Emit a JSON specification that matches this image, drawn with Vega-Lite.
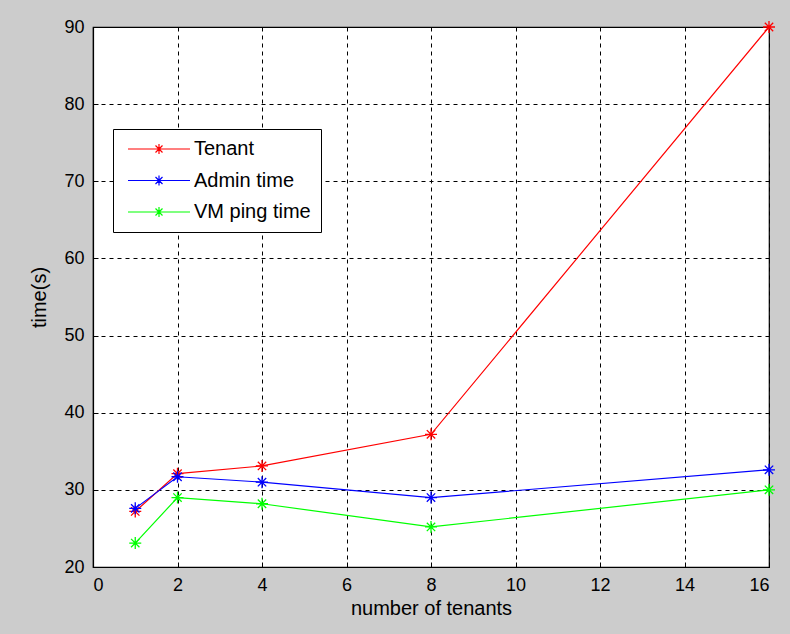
{
  "$schema": "https://vega.github.io/schema/vega-lite/v6.json",
  "width": 676,
  "height": 540,
  "autosize": {"type": "none"},
  "padding": {"left": 93, "top": 27, "right": 21, "bottom": 67},
  "background": "#cccccc",
  "config": {
    "view": {"fill": "white", "stroke": "black", "strokeWidth": 1.2},
    "font": "Liberation Sans",
    "axis": {
      "domainColor": "black",
      "domainWidth": 1.2,
      "gridColor": "black",
      "gridOpacity": 1,
      "gridDash": [4, 4],
      "gridWidth": 1,
      "tickColor": "black",
      "tickSize": -5,
      "labelFont": "Liberation Sans",
      "labelFontSize": 18,
      "labelColor": "black",
      "titleFont": "Liberation Sans",
      "titleFontSize": 20,
      "titleFontWeight": "normal",
      "titleColor": "black"
    }
  },
  "data": {
    "values": [
      {"series": "Tenant", "tenants": 1, "time": 27.2},
      {"series": "Tenant", "tenants": 2, "time": 32.1},
      {"series": "Tenant", "tenants": 4, "time": 33.1},
      {"series": "Tenant", "tenants": 8, "time": 37.2},
      {"series": "Tenant", "tenants": 16, "time": 90},
      {"series": "Admin time", "tenants": 1, "time": 27.6},
      {"series": "Admin time", "tenants": 2, "time": 31.7},
      {"series": "Admin time", "tenants": 4, "time": 31.0},
      {"series": "Admin time", "tenants": 8, "time": 29.0},
      {"series": "Admin time", "tenants": 16, "time": 32.6},
      {"series": "VM ping time", "tenants": 1, "time": 23.1},
      {"series": "VM ping time", "tenants": 2, "time": 29.0},
      {"series": "VM ping time", "tenants": 4, "time": 28.2},
      {"series": "VM ping time", "tenants": 8, "time": 25.2},
      {"series": "VM ping time", "tenants": 16, "time": 30.0}
    ]
  },
  "encoding": {
    "x": {
      "field": "tenants", "type": "quantitative",
      "scale": {"domain": [0, 16], "nice": false},
      "axis": {"values": [0, 2, 4, 6, 8, 10, 12, 14, 16], "title": "number of tenants", "labelPadding": 14, "titlePadding": 4}
    },
    "y": {
      "field": "time", "type": "quantitative",
      "scale": {"domain": [20, 90], "nice": false, "zero": false},
      "axis": {"values": [20, 30, 40, 50, 60, 70, 80, 90], "title": "time(s)", "labelPadding": 14, "titlePadding": 14}
    },
    "color": {
      "field": "series", "type": "nominal",
      "scale": {"domain": ["Tenant", "Admin time", "VM ping time"], "range": ["#ff0000", "#0000ff", "#00ff00"]},
      "legend": {
        "title": null,
        "orient": "none",
        "legendX": 20,
        "legendY": 102,
        "strokeColor": "black",
        "fillColor": "white",
        "padding": 10,
        "symbolType": "M-6.2,0H6.2M-1,0H1M0,-1V1M-0.7,-0.7L0.7,0.7M-0.7,0.7L0.7,-0.7",
        "symbolSize": 100,
        "symbolStrokeWidth": 1.2,
        "symbolFillColor": "transparent",
        "symbolOffset": 26,
        "labelOffset": 25,
        "labelFontSize": 20,
        "labelFont": "Liberation Sans",
        "labelColor": "black",
        "rowPadding": 11.5
      }
    }
  },
  "layer": [
    {"mark": {"type": "line", "strokeWidth": 1.2}},
    {"mark": {"type": "point", "shape": "M-1,0H1M0,-1V1M-0.7,-0.7L0.7,0.7M-0.7,0.7L0.7,-0.7", "size": 144, "filled": false, "strokeWidth": 1.3, "opacity": 1}}
  ]
}
